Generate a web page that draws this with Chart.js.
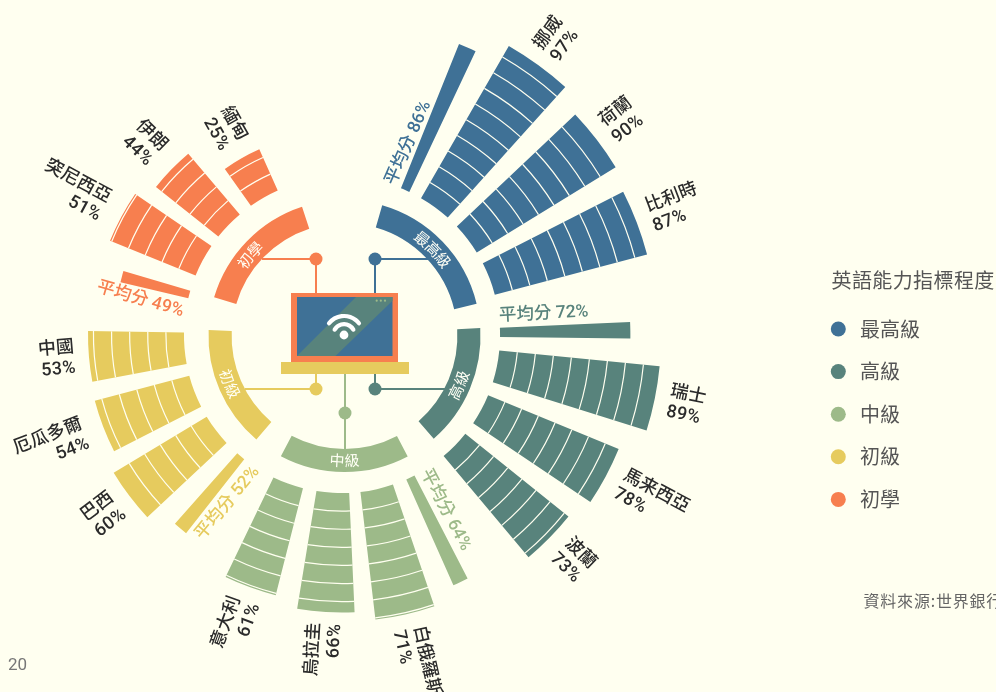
<!DOCTYPE html>
<html lang="zh-Hant">
<head>
<meta charset="utf-8">
<title>英語能力指標程度</title>
<script src="https://cdn.jsdelivr.net/npm/chart.js@4"></script>
<style>
html,body{margin:0;padding:0;background:#FFFFF0;overflow:hidden;width:996px;height:692px}
canvas{position:absolute;display:block}
#bars{left:0;top:0}
#rings{left:195px;top:186px}
</style>
</head>
<body>
<canvas id="bars" width="996" height="692"></canvas>
<canvas id="rings" width="299" height="300"></canvas>
<script>
/* ---------- data, in clockwise order from the top ---------- */
const categories = ['平均分','挪威','荷蘭','比利時','平均分','瑞士','馬来西亞','波蘭','平均分','白俄羅斯','烏拉圭','意大利','平均分','巴西','厄瓜多爾','中國','平均分','突尼西亞','伊朗','緬甸'];
const shownPercent = [86,97,90,87,72,89,78,73,64,71,66,61,52,60,54,53,49,51,44,25];
/* bar lengths (the 49% average bar is drawn shorter than its label) */
const barValues = [86,97,90,87,72,89,78,73,64,71,66,61,52,60,54,53,38.5,51,44,25];
const barLevels = [0,0,0,0,1,1,1,1,2,2,2,2,3,3,3,3,4,4,4,4];
const isAverage = [1,0,0,0,1,0,0,0,1,0,0,0,1,0,0,0,1,0,0,0];
const levels = ['最高級','高級','中級','初級','初學'];

/* ---------- layout and style ---------- */
const barFrom = [21.9,30,46.6,63,87.4,95.6,112.4,128.7,152.7,161.2,177.4,194.3,218.2,226.9,243,259.4,283.4,292.1,308.5,324.8];
const barTo   = [25.2,42,58.5,75.2,90.7,107.4,123.9,140,156,173.3,189.3,205.7,221.5,238.9,255.1,270.9,286.3,304.3,319.7,336];
const labelGap = [0,14,14,14,0,14,15.5,15,0,14,11,14,0,14,19,14,0,19,20,16];
const ringFrom = [16.1,86.6,152.3,220.4,286.5];
const ringTo   = [76.3,139,207.9,272.5,341.8];
const ringTextAt = [45.5,113.3,180,247.5,310.6];
const colors = ['#3F7196','#58837C','#9DBA89','#E6CB5E','#F77F4F'];
const BG = '#FFFFF0';
const FONT = "Roboto,'Noto Sans CJK TC',sans-serif";
const UI = "'Noto Sans CJK TC',sans-serif";
const rad = d => d*Math.PI/180;
const avgTilt = {0:0,4:-2,8:-2,12:0,16:1.5};
const avgSide = {0:-15.5,4:-17.5,8:-17.5,12:20,16:17.5};
const avgAlong = {0:44.5,4:44,8:44.5,12:44.5,16:46};

/* polar series: every bar is followed by an empty spacer of the gap's angle */
const polarLabels=[], polarData=[], polarAngles=[], polarColors=[], polarBar=[];
barValues.forEach((v,i)=>{
  polarLabels.push(categories[i]); polarData.push(v); polarBar.push(i);
  polarAngles.push(barTo[i]-barFrom[i]); polarColors.push(colors[barLevels[i]]);
  const next = i+1<barValues.length ? barFrom[i+1] : barFrom[0]+360;
  polarLabels.push(''); polarData.push(0); polarBar.push(-1);
  polarAngles.push(next-barTo[i]); polarColors.push('rgba(0,0,0,0)');
});

function at(cx,cy,deg,dist){ return {x:cx+dist*Math.sin(rad(deg)), y:cy-dist*Math.cos(rad(deg))}; }

const barPlugin = {
  id:'barPlugin',
  afterDatasetsUpdate(chart){
    const s = chart.scales.r, base = s.getDistanceFromCenterForValue(0);
    chart.getDatasetMeta(0).data.forEach(el=>{ el.innerRadius = base; });
  },
  afterDatasetsDraw(chart){
    const s = chart.scales.r, ctx = chart.ctx, base = s.getDistanceFromCenterForValue(0);
    const arcs = chart.getDatasetMeta(0).data;
    ctx.save();
    /* separators on the axis ticks */
    ctx.strokeStyle = BG; ctx.lineWidth = 1.2;
    arcs.forEach((el,j)=>{
      const i = polarBar[j];
      if(i<0 || isAverage[i]) return;
      s.ticks.forEach(t=>{
        if(t.value>0 && t.value<barValues[i]){
          ctx.beginPath();
          ctx.arc(el.x,el.y,s.getDistanceFromCenterForValue(t.value),el.startAngle,el.endAngle);
          ctx.stroke();
        }
      });
    });
    /* bar labels */
    ctx.textBaseline='middle';
    barValues.forEach((v,i)=>{
      const mid=(barFrom[i]+barTo[i])/2, right=mid<180, rot=right?mid-90:mid-270;
      const col=colors[barLevels[i]];
      if(isAverage[i]){
        const p=at(s.xCenter,s.yCenter,mid,base+avgAlong[i]);
        const side=avgSide[i], r2=rad(rot);
        ctx.save(); ctx.translate(p.x-side*Math.sin(r2),p.y+side*Math.cos(r2)); ctx.rotate(rad(rot+avgTilt[i]));
        ctx.fillStyle=col; ctx.font='500 17.5px '+FONT; ctx.textAlign='center';
        ctx.fillText(categories[i]+' '+shownPercent[i]+'%',0,0);
        ctx.restore();
      }else{
        const p=at(s.xCenter,s.yCenter,mid,s.getDistanceFromCenterForValue(v)+labelGap[i]);
        ctx.save(); ctx.translate(p.x,p.y); ctx.rotate(rad(rot));
        ctx.fillStyle='#2B2B2B'; ctx.textAlign=right?'left':'right';
        ctx.font='500 18px '+FONT; ctx.fillText(categories[i],0,-10.2);
        ctx.font='500 18px '+FONT; ctx.letterSpacing='0.3px'; ctx.fillText(shownPercent[i]+'%',0,10.6); ctx.letterSpacing='0px';
        ctx.restore();
      }
    });
    /* legend, source, page number */
    ctx.textAlign='left'; ctx.fillStyle='#555';
    ctx.font='20px '+UI; ctx.letterSpacing='0.4px'; ctx.fillText('英語能力指標程度',831.5,280); ctx.letterSpacing='0px';
    levels.forEach((n,i)=>{
      const y=329+i*42.6;
      ctx.fillStyle=colors[i]; ctx.beginPath(); ctx.arc(838.3,y,7.5,0,Math.PI*2); ctx.fill();
      ctx.fillStyle='#555'; ctx.fillText(n,860,y);
    });
    ctx.fillStyle='#666'; ctx.font='16px '+UI; ctx.letterSpacing='0.8px'; ctx.fillText('資料來源:世界銀行',863.5,601); ctx.letterSpacing='0px';
    ctx.fillStyle='#777'; ctx.font='17px Roboto,sans-serif'; ctx.fillText('20',8,666);
    ctx.restore();
  }
};

new Chart(document.getElementById('bars'),{
  type:'polarArea',
  data:{labels:polarLabels,datasets:[{data:polarData,backgroundColor:polarColors,borderWidth:0,
    angle:c=>polarAngles[c.dataIndex]}]},
  options:{
    responsive:false,animation:false,
    layout:{padding:{left:8,right:320,top:1,bottom:23}},
    plugins:{legend:{display:false},tooltip:{enabled:false}},
    scales:{r:{min:-87.3,max:97.2,startAngle:barFrom[0],
      ticks:{display:false,stepSize:10},grid:{display:false},angleLines:{display:false},
      pointLabels:{display:false}}}
  },
  plugins:[barPlugin]
});

/* ---------- inner ring and centre picture ---------- */
const ringData=[], ringColors=[];
levels.forEach((n,i)=>{
  ringData.push(ringTo[i]-ringFrom[i]); ringColors.push(colors[i]);
  const next=i+1<levels.length?ringFrom[i+1]:ringFrom[0]+360;
  ringData.push(next-ringTo[i]); ringColors.push('rgba(0,0,0,0)');
});

const ringPlugin={
  id:'ringPlugin',
  beforeDatasetsDraw(chart){
    const ctx=chart.ctx, a=chart.chartArea, ox=(a.left+a.right)/2-344.5, oy=(a.top+a.bottom)/2-336;
    ctx.save(); ctx.translate(ox,oy);
    const conn=[
      [colors[0],375,259,430,259,375,293],
      [colors[1],375,389,445,389,375,374],
      [colors[3],316,389,245,389,316,374],
      [colors[4],316,259,262,259,316,293]];
    ctx.lineWidth=2;
    conn.forEach(c=>{
      ctx.strokeStyle=c[0]; ctx.beginPath(); ctx.moveTo(c[3],c[4]); ctx.lineTo(c[1],c[2]); ctx.lineTo(c[5],c[6]); ctx.stroke();
      ctx.fillStyle=c[0]; ctx.beginPath(); ctx.arc(c[1],c[2],6.5,0,Math.PI*2); ctx.fill();
    });
    ctx.strokeStyle=colors[2]; ctx.beginPath(); ctx.moveTo(345,374); ctx.lineTo(345,450); ctx.stroke();
    ctx.fillStyle=colors[2]; ctx.beginPath(); ctx.arc(345,413,6.5,0,Math.PI*2); ctx.fill();
    /* laptop */
    ctx.fillStyle=colors[4]; ctx.fillRect(291,293,107,69);
    ctx.fillStyle=colors[0]; ctx.fillRect(297,297,95.5,59);
    ctx.fillStyle=colors[1]; ctx.beginPath();
    ctx.moveTo(297,356); ctx.lineTo(356,297); ctx.lineTo(392.5,297); ctx.lineTo(392.5,300.7); ctx.lineTo(335.5,356); ctx.closePath(); ctx.fill();
    ctx.fillStyle=colors[3]; ctx.fillRect(281,362,128,12);
    ctx.fillStyle=colors[2];
    [376.7,380.8,385].forEach(x=>{ctx.beginPath();ctx.arc(x,300.7,1.1,0,Math.PI*2);ctx.fill();});
    ctx.fillStyle='#FFFFFF'; ctx.strokeStyle='#FFFFFF';
    ctx.beginPath(); ctx.arc(344,335,4.4,0,Math.PI*2); ctx.fill();
    ctx.lineWidth=4.2; ctx.lineCap='round';
    ctx.beginPath(); ctx.arc(344,335,19,rad(-142),rad(-38)); ctx.stroke();
    ctx.beginPath(); ctx.arc(344,335,10.8,rad(-150),rad(-30)); ctx.stroke();
    ctx.restore();
  },
  afterDatasetsDraw(chart){
    const ctx=chart.ctx, a=chart.chartArea, cx=(a.left+a.right)/2, cy=(a.top+a.bottom)/2, rr=124.5;
    ctx.save();
    ctx.fillStyle='#FFFFF5'; ctx.font='15px '+UI; ctx.textAlign='center'; ctx.textBaseline='middle';
    levels.forEach((n,i)=>{
      const deg=ringTextAt[i], bottom=deg>90&&deg<270, step=(15/rr)*180/Math.PI*(bottom?-1:1), chars=[...n];
      chars.forEach((ch,k)=>{
        const d=deg+(k-(chars.length-1)/2)*step, p=at(cx,cy,d,rr);
        ctx.save(); ctx.translate(p.x,p.y); ctx.rotate(rad(bottom?d-180:d)); ctx.fillText(ch,0,0); ctx.restore();
      });
    });
    ctx.restore();
  }
};

new Chart(document.getElementById('rings'),{
  type:'doughnut',
  data:{labels:levels.flatMap(n=>[n,'']),datasets:[{data:ringData,backgroundColor:ringColors,borderWidth:0}]},
  options:{
    responsive:false,animation:false,rotation:ringFrom[0],cutout:'83%',radius:136,
    plugins:{legend:{display:false},tooltip:{enabled:false}}
  },
  plugins:[ringPlugin]
});
</script>
</body>
</html>
